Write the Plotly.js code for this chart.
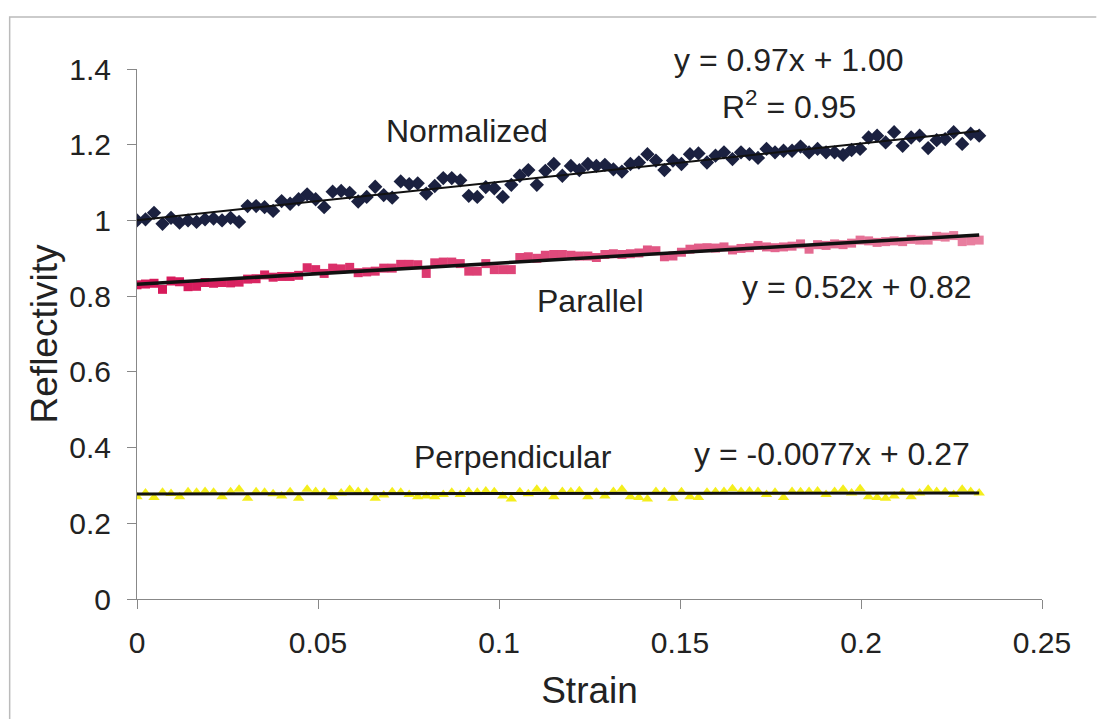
<!DOCTYPE html>
<html>
<head>
<meta charset="utf-8">
<script src="https://cdn.plot.ly/plotly-3.0.1.min.js"></script>
<style>html,body{margin:0;padding:0;background:#fff;}#chart{width:1099px;height:719px;}</style>
</head>
<body>
<div id="chart"></div>
<script>
// Strain values (x)
var strain = [
0, 0.00235, 0.0047, 0.00705, 0.0094, 0.01175, 0.0141, 0.01645, 0.0188, 0.02115,
0.0235, 0.02585, 0.0282, 0.03055, 0.0329, 0.03525, 0.0376, 0.03995, 0.0423, 0.04465,
0.047, 0.04935, 0.0517, 0.05405, 0.0564, 0.05875, 0.0611, 0.06345, 0.0658, 0.06815,
0.0705, 0.07285, 0.0752, 0.07755, 0.0799, 0.08225, 0.0846, 0.08695, 0.0893, 0.09165,
0.094, 0.09635, 0.0987, 0.10105, 0.1034, 0.10575, 0.1081, 0.11045, 0.1128, 0.11515,
0.1175, 0.11985, 0.1222, 0.12455, 0.1269, 0.12925, 0.1316, 0.13395, 0.1363, 0.13865,
0.141, 0.14335, 0.1457, 0.14805, 0.1504, 0.15275, 0.1551, 0.15745, 0.1598, 0.16215,
0.1645, 0.16685, 0.1692, 0.17155, 0.1739, 0.17625, 0.1786, 0.18095, 0.1833, 0.18565,
0.188, 0.19035, 0.1927, 0.19505, 0.1974, 0.19975, 0.2021, 0.20445, 0.2068, 0.20915,
0.2115, 0.21385, 0.2162, 0.21855, 0.2209, 0.22325, 0.2256, 0.22795, 0.2303, 0.23265
];

var normalized = [
1.000,1.003,1.020,0.991,1.007,0.994,1.000,0.996,1.003,1.005,
1.000,1.007,0.996,1.038,1.038,1.035,1.025,1.051,1.044,1.056,
1.069,1.056,1.035,1.076,1.078,1.073,1.050,1.062,1.089,1.067,
1.060,1.103,1.096,1.098,1.071,1.091,1.112,1.112,1.106,1.065,
1.062,1.088,1.085,1.062,1.094,1.118,1.133,1.094,1.131,1.149,
1.118,1.144,1.133,1.149,1.144,1.147,1.135,1.129,1.149,1.153,
1.175,1.158,1.133,1.158,1.149,1.175,1.177,1.153,1.171,1.180,
1.162,1.180,1.175,1.165,1.189,1.180,1.184,1.184,1.195,1.180,
1.189,1.180,1.180,1.173,1.186,1.189,1.219,1.224,1.206,1.233,
1.197,1.219,1.224,1.191,1.212,1.215,1.233,1.202,1.229,1.224
];

var parallel = [
0.830,0.832,0.834,0.818,0.840,0.838,0.825,0.826,0.836,0.834,
0.836,0.835,0.837,0.845,0.846,0.856,0.850,0.852,0.852,0.855,
0.875,0.870,0.860,0.874,0.872,0.876,0.862,0.864,0.866,0.874,
0.874,0.884,0.884,0.883,0.860,0.888,0.890,0.890,0.886,0.866,
0.866,0.886,0.870,0.870,0.870,0.902,0.904,0.900,0.908,0.910,
0.910,0.908,0.906,0.906,0.902,0.910,0.912,0.910,0.912,0.914,
0.922,0.920,0.904,0.906,0.916,0.924,0.927,0.928,0.927,0.930,
0.922,0.926,0.928,0.934,0.930,0.928,0.930,0.932,0.938,0.924,
0.936,0.934,0.938,0.936,0.940,0.948,0.946,0.942,0.944,0.946,
0.944,0.950,0.948,0.948,0.958,0.956,0.960,0.944,0.946,0.948
];

var perpendicular = [
0.270,0.280,0.268,0.282,0.279,0.270,0.283,0.282,0.284,0.282,
0.270,0.283,0.290,0.266,0.283,0.282,0.278,0.272,0.283,0.266,
0.290,0.284,0.282,0.270,0.280,0.289,0.284,0.282,0.266,0.275,
0.283,0.282,0.276,0.270,0.272,0.270,0.276,0.282,0.276,0.284,
0.282,0.285,0.283,0.272,0.264,0.283,0.278,0.290,0.285,0.270,
0.284,0.283,0.286,0.270,0.282,0.272,0.284,0.290,0.270,0.268,
0.264,0.284,0.283,0.266,0.283,0.270,0.268,0.282,0.283,0.284,
0.291,0.284,0.285,0.284,0.276,0.282,0.268,0.284,0.283,0.284,
0.285,0.276,0.284,0.290,0.280,0.291,0.270,0.268,0.266,0.272,
0.282,0.270,0.280,0.290,0.284,0.283,0.276,0.290,0.284,0.280
];

var seriesLabels = ["Normalized", "Parallel", "Perpendicular"];
var equationLabels = ["y = 0.97x + 1.00", "y = 0.52x + 0.82", "y = -0.0077x + 0.27"];
var r2Label = "R<sup>2</sup> = 0.95";
var xTicks = [0, 0.05, 0.1, 0.15, 0.2, 0.25];
var xTickText = ["0", "0.05", "0.1", "0.15", "0.2", "0.25"];
var yTicks = [0, 0.2, 0.4, 0.6, 0.8, 1, 1.2, 1.4];
var yTickText = ["0", "0.2", "0.4", "0.6", "0.8", "1", "1.2", "1.4"];

function fit(xs, ys) {
  var n = xs.length, sx = 0, sy = 0, sxx = 0, sxy = 0;
  for (var i = 0; i < n; i++) { sx += xs[i]; sy += ys[i]; sxx += xs[i]*xs[i]; sxy += xs[i]*ys[i]; }
  var m = (n*sxy - sx*sy) / (n*sxx - sx*sx);
  var b = (sy - m*sx) / n;
  var x0 = xs[0], x1 = xs[n-1];
  return {x: [x0, x1], y: [m*x0 + b, m*x1 + b]};
}

// pink colour fading from deep crimson to lighter pink along the series
function pinkShade(i, n) {
  var t = i / (n - 1);
  var c0 = [214, 22, 88], c1 = [232, 128, 160];
  var c = c0.map(function (v, k) { return Math.round(v + (c1[k] - v) * t); });
  return "rgb(" + c.join(",") + ")";
}
var parallelColors = parallel.map(function (v, i) { return pinkShade(i, parallel.length); });

var fN = fit(strain, normalized), fP = fit(strain, parallel), fQ = fit(strain, perpendicular);

var traces = [
  {x: strain, y: perpendicular, type: "scatter", mode: "markers", name: seriesLabels[2],
   marker: {symbol: "triangle-up", size: 10, color: "#f4ee1c"}},
  {x: strain, y: parallel, type: "scatter", mode: "markers", name: seriesLabels[1],
   marker: {symbol: "square", size: 9, color: parallelColors}},
  {x: strain, y: normalized, type: "scatter", mode: "markers", name: seriesLabels[0],
   marker: {symbol: "diamond", size: 11, color: "#1b2140"}},
  {x: fQ.x, y: fQ.y, type: "scatter", mode: "lines", line: {color: "#111", width: 3}, hoverinfo: "skip"},
  {x: fP.x, y: fP.y, type: "scatter", mode: "lines", line: {color: "#111", width: 3.5}, hoverinfo: "skip"},
  {x: fN.x, y: fN.y, type: "scatter", mode: "lines", line: {color: "#111", width: 2}, hoverinfo: "skip"}
];

var annFont = {family: "Liberation Sans, Arial, sans-serif", size: 32, color: "#222"};
function ann(text, x, y) {
  return {text: text, x: x, y: y, xref: "x", yref: "y", showarrow: false, font: annFont,
          xanchor: "center", yanchor: "middle"};
}

var layout = {
  width: 1099, height: 719,
  margin: {l: 137, r: 57, t: 69, b: 120},
  paper_bgcolor: "#ffffff", plot_bgcolor: "#ffffff",
  showlegend: false,
  font: {family: "Liberation Sans, Arial, sans-serif", color: "#222"},
  xaxis: {
    range: [0, 0.25], tickvals: xTicks, ticktext: xTickText,
    showgrid: false, zeroline: false, showline: true, linecolor: "#888", linewidth: 1,
    ticks: "outside", ticklen: 9, tickcolor: "#888", tickwidth: 1,
    tickfont: {size: 30, color: "#222"}, ticklabelstandoff: 8,
    title: {text: "Strain", font: {size: 37, color: "#222"}, standoff: 19}
  },
  yaxis: {
    range: [0, 1.4], tickvals: yTicks, ticktext: yTickText,
    showgrid: false, zeroline: false, showline: true, linecolor: "#888", linewidth: 1,
    ticks: "outside", ticklen: 9, tickcolor: "#888", tickwidth: 1,
    tickfont: {size: 30, color: "#222"}, ticklabelstandoff: 10,
    title: {text: "Reflectivity", font: {size: 37, color: "#222"}, standoff: 0}
  },
  annotations: [
    ann(seriesLabels[0], 0.0911, 1.236),
    ann(seriesLabels[1], 0.1253, 0.7875),
    ann(seriesLabels[2], 0.1038, 0.3757),
    {text: equationLabels[0], x: 0.180, y: 1.017, xref: "x", yref: "paper", showarrow: false,
     font: annFont, xanchor: "center", yanchor: "middle"},
    ann(r2Label, 0.180, 1.305),
    ann(equationLabels[1], 0.199, 0.8245),
    ann(equationLabels[2], 0.1919, 0.3836)
  ],
  shapes: [
    {type: "path", xref: "paper", yref: "paper",
     path: "M -0.1407,-0.23 L -0.1407,1.098 L 1.06,1.098",
     line: {color: "#bbbbbb", width: 1.5}}
  ]
};

Plotly.newPlot("chart", traces, layout, {displayModeBar: false, staticPlot: true});
</script>
</body>
</html>
